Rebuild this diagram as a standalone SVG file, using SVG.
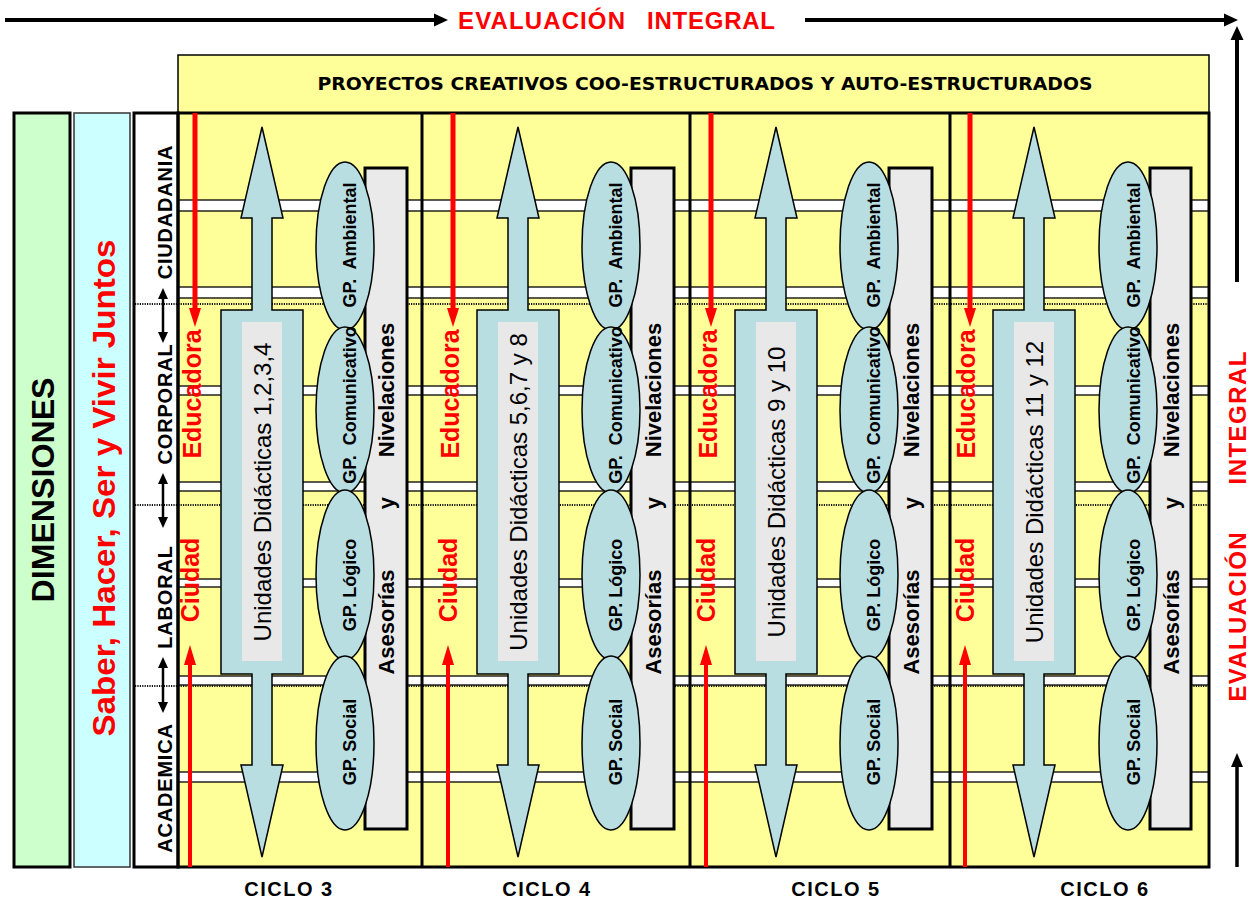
<svg xmlns="http://www.w3.org/2000/svg" xmlns:xlink="http://www.w3.org/1999/xlink" width="1249" height="902" viewBox="0 0 1249 902">
<style>
text{font-family:"Liberation Sans",Arial,sans-serif;}
.rt{text-anchor:middle;dominant-baseline:central;}
.band{fill:#FFFF99;stroke:#000;stroke-width:1.3;}
.dot{stroke:#111;stroke-width:2;stroke-dasharray:1.2 1.2;fill:none;}
.frame{fill:none;stroke:#000;stroke-width:3;}
.div{stroke:#000;stroke-width:3;}
.big{fill:#B8DEE2;stroke:#000;stroke-width:1.5;}
.inner{fill:#E8E8E8;}
.abox{fill:#EAEAEA;stroke:#000;stroke-width:3;}
.gp{fill:#B8DEE2;stroke:#000;stroke-width:1.5;}
.gpt{font-weight:bold;font-size:18px;fill:#000;}
.ud{font-size:24px;fill:#000;}
.ase{font-weight:bold;font-size:22px;fill:#000;}
.redt{font-weight:bold;font-size:25px;fill:#FF0000;}
.dim{font-weight:bold;font-size:20px;fill:#000;letter-spacing:0.8px;}
.ciclo{font-weight:bold;font-size:20px;fill:#000;text-anchor:middle;letter-spacing:1.5px;}
.eval{font-weight:bold;font-size:24px;fill:#FF0000;}
.redl{stroke:#FF0000;fill:none;}
.redh{fill:#FF0000;}
.blk{stroke:#000;fill:none;}
.blkh{fill:#000;}
</style>
<defs>
<polygon id="bigArrow" points="0,127 21,218 10,218 10,310 41,310 41,674 10,674 10,765 21,765 0,857 -21,765 -10,765 -10,674 -41,674 -41,310 -10,310 -10,218 -21,218"/>
</defs>
<rect width="1249" height="902" fill="#FFFFFF"/>

<g id="header">
<text class="eval" x="458" y="29" textLength="167" lengthAdjust="spacing">EVALUACIÓN</text>
<text class="eval" x="647" y="29" textLength="128" lengthAdjust="spacing">INTEGRAL</text>
<text class="eval rt" transform="translate(1237,617) rotate(-90)" textLength="169" lengthAdjust="spacing">EVALUACIÓN</text>
<text class="eval rt" transform="translate(1237,418) rotate(-90)" textLength="133" lengthAdjust="spacing">INTEGRAL</text>
</g>

<g id="proyectos">
<rect x="178" y="55" width="1031" height="58" fill="#FFFF99" stroke="#000" stroke-width="1.5"/>
<text x="705" y="90" text-anchor="middle" style="font-family:'DejaVu Sans',sans-serif" font-weight="bold" font-size="17" textLength="775" lengthAdjust="spacingAndGlyphs">PROYECTOS CREATIVOS COO-ESTRUCTURADOS Y AUTO-ESTRUCTURADOS</text>
</g>

<g id="dimensiones">
<rect x="14" y="113" width="56" height="754" fill="#CCFFCC" stroke="#000" stroke-width="3"/>
<text class="rt" transform="translate(43,490) rotate(-90)" font-weight="bold" font-size="32" fill="#000" textLength="225" lengthAdjust="spacingAndGlyphs">DIMENSIONES</text>
</g>

<g id="saber">
<rect x="74" y="113" width="56" height="754" fill="#CCFFFF" stroke="#333" stroke-width="1.5"/>
<text class="rt" transform="translate(104,488) rotate(-90)" font-weight="bold" font-size="31" fill="#FF0000" textLength="497" lengthAdjust="spacingAndGlyphs">Saber, Hacer, Ser y Vivir Juntos</text>
</g>

<g id="bands">
<rect class="band" x="178" y="113" width="1031" height="87"/>
<rect class="band" x="178" y="211" width="1031" height="76"/>
<rect class="band" x="178" y="298" width="1031" height="88"/>
<rect class="band" x="178" y="395" width="1031" height="87"/>
<rect class="band" x="178" y="491" width="1031" height="88"/>
<rect class="band" x="178" y="587" width="1031" height="89"/>
<rect class="band" x="178" y="685" width="1031" height="87"/>
<rect class="band" x="178" y="782" width="1031" height="85"/>
<line class="dot" x1="135" y1="304" x2="1209" y2="304"/>
<line class="dot" x1="135" y1="505" x2="1209" y2="505"/>
<line class="dot" x1="135" y1="686" x2="1209" y2="686"/>
</g>

<g id="dimension-labels">
<rect x="134" y="113" width="44" height="754" fill="none" stroke="#000" stroke-width="3"/>
<text class="dim rt" transform="translate(165,212) rotate(-90)">CIUDADANIA</text>
<text class="dim rt" transform="translate(165,404) rotate(-90)">CORPORAL</text>
<text class="dim rt" transform="translate(165,597) rotate(-90)">LABORAL</text>
<text class="dim rt" transform="translate(165,788) rotate(-90)">ACADEMICA</text>
</g>

<g id="frame">
<rect class="frame" x="178" y="113" width="1031" height="754"/>
<line class="div" x1="422" y1="113" x2="422" y2="867"/>
<line class="div" x1="690" y1="113" x2="690" y2="867"/>
<line class="div" x1="950" y1="113" x2="950" y2="867"/>
</g>

<g id="ciclo-3">
<use xlink:href="#bigArrow" href="#bigArrow" x="262" class="big"/>
<rect class="inner" x="242" y="322" width="40" height="339"/>
<rect class="abox" x="365" y="168" width="42" height="661"/>
<ellipse class="gp" cx="345" cy="246" rx="29" ry="84"/>
<ellipse class="gp" cx="345" cy="410" rx="29" ry="83"/>
<ellipse class="gp" cx="345" cy="575" rx="29" ry="85"/>
<ellipse class="gp" cx="345" cy="743" rx="29" ry="87"/>
<text class="ud rt" transform="translate(262,492) rotate(-90)">Unidades Didácticas 1,2,3,4</text>
<text class="gpt rt" transform="translate(350,245) rotate(-90)">GP.&#160; Ambiental</text>
<text class="gpt rt" transform="translate(350,405) rotate(-90)">GP.&#160; Comunicativo</text>
<text class="gpt rt" transform="translate(350,585) rotate(-90)">GP. Lógico</text>
<text class="gpt rt" transform="translate(350,742) rotate(-90)">GP. Social</text>
<text class="ase rt" transform="translate(386,390) rotate(-90)">Nivelaciones</text>
<text class="ase rt" transform="translate(386,503) rotate(-90)">y</text>
<text class="ase rt" transform="translate(386,622) rotate(-90)">Asesorías</text>
<text class="redt rt" transform="translate(192,394) rotate(-90)">Educadora</text>
<text class="redt rt" transform="translate(190,580) rotate(-90)">Ciudad</text>
<text class="ciclo" x="289" y="896">CICLO 3</text>
</g>

<g id="ciclo-4">
<use xlink:href="#bigArrow" href="#bigArrow" x="518" class="big"/>
<rect class="inner" x="498" y="322" width="40" height="339"/>
<rect class="abox" x="631" y="168" width="43" height="661"/>
<ellipse class="gp" cx="611" cy="246" rx="29" ry="84"/>
<ellipse class="gp" cx="611" cy="410" rx="29" ry="83"/>
<ellipse class="gp" cx="611" cy="575" rx="29" ry="85"/>
<ellipse class="gp" cx="611" cy="743" rx="29" ry="87"/>
<text class="ud rt" transform="translate(518,492) rotate(-90)">Unidades Didácticas 5,6,7 y 8</text>
<text class="gpt rt" transform="translate(616,245) rotate(-90)">GP.&#160; Ambiental</text>
<text class="gpt rt" transform="translate(616,405) rotate(-90)">GP.&#160; Comunicativo</text>
<text class="gpt rt" transform="translate(616,585) rotate(-90)">GP. Lógico</text>
<text class="gpt rt" transform="translate(616,742) rotate(-90)">GP. Social</text>
<text class="ase rt" transform="translate(653,390) rotate(-90)">Nivelaciones</text>
<text class="ase rt" transform="translate(653,503) rotate(-90)">y</text>
<text class="ase rt" transform="translate(653,622) rotate(-90)">Asesorías</text>
<text class="redt rt" transform="translate(450,394) rotate(-90)">Educadora</text>
<text class="redt rt" transform="translate(448,580) rotate(-90)">Ciudad</text>
<text class="ciclo" x="547" y="896">CICLO 4</text>
</g>

<g id="ciclo-5">
<use xlink:href="#bigArrow" href="#bigArrow" x="776" class="big"/>
<rect class="inner" x="756" y="322" width="40" height="339"/>
<rect class="abox" x="889" y="168" width="43" height="661"/>
<ellipse class="gp" cx="869" cy="246" rx="29" ry="84"/>
<ellipse class="gp" cx="869" cy="410" rx="29" ry="83"/>
<ellipse class="gp" cx="869" cy="575" rx="29" ry="85"/>
<ellipse class="gp" cx="869" cy="743" rx="29" ry="87"/>
<text class="ud rt" transform="translate(776,492) rotate(-90)">Unidades Didácticas 9 y 10</text>
<text class="gpt rt" transform="translate(874,245) rotate(-90)">GP.&#160; Ambiental</text>
<text class="gpt rt" transform="translate(874,405) rotate(-90)">GP.&#160; Comunicativo</text>
<text class="gpt rt" transform="translate(874,585) rotate(-90)">GP. Lógico</text>
<text class="gpt rt" transform="translate(874,742) rotate(-90)">GP. Social</text>
<text class="ase rt" transform="translate(911,390) rotate(-90)">Nivelaciones</text>
<text class="ase rt" transform="translate(911,503) rotate(-90)">y</text>
<text class="ase rt" transform="translate(911,622) rotate(-90)">Asesorías</text>
<text class="redt rt" transform="translate(708,394) rotate(-90)">Educadora</text>
<text class="redt rt" transform="translate(706,580) rotate(-90)">Ciudad</text>
<text class="ciclo" x="836" y="896">CICLO 5</text>
</g>

<g id="ciclo-6">
<use xlink:href="#bigArrow" href="#bigArrow" x="1034" class="big"/>
<rect class="inner" x="1014" y="322" width="40" height="339"/>
<rect class="abox" x="1150" y="168" width="41" height="661"/>
<ellipse class="gp" cx="1128" cy="246" rx="29" ry="84"/>
<ellipse class="gp" cx="1128" cy="410" rx="29" ry="83"/>
<ellipse class="gp" cx="1128" cy="575" rx="29" ry="85"/>
<ellipse class="gp" cx="1128" cy="743" rx="29" ry="87"/>
<text class="ud rt" transform="translate(1034,492) rotate(-90)">Unidades Didácticas 11 y 12</text>
<text class="gpt rt" transform="translate(1134,245) rotate(-90)">GP.&#160; Ambiental</text>
<text class="gpt rt" transform="translate(1134,405) rotate(-90)">GP.&#160; Comunicativo</text>
<text class="gpt rt" transform="translate(1134,585) rotate(-90)">GP. Lógico</text>
<text class="gpt rt" transform="translate(1134,742) rotate(-90)">GP. Social</text>
<text class="ase rt" transform="translate(1171,390) rotate(-90)">Nivelaciones</text>
<text class="ase rt" transform="translate(1171,503) rotate(-90)">y</text>
<text class="ase rt" transform="translate(1171,622) rotate(-90)">Asesorías</text>
<text class="redt rt" transform="translate(966,394) rotate(-90)">Educadora</text>
<text class="redt rt" transform="translate(965,580) rotate(-90)">Ciudad</text>
<text class="ciclo" x="1105" y="896">CICLO 6</text>
</g>

<g id="connectors">
<line class="blk" x1="5" y1="20" x2="436" y2="20" stroke-width="4"/>
<polygon class="blkh" points="434,13.5 448,20 434,26.5"/>
<line class="blk" x1="805" y1="20" x2="1226" y2="20" stroke-width="4"/>
<polygon class="blkh" points="1224,13.5 1238,20 1224,26.5"/>
<line class="blk" x1="1237" y1="282" x2="1237" y2="38" stroke-width="4"/>
<polygon class="blkh" points="1230.5,40 1243.5,40 1237,26"/>
<line class="blk" x1="1237" y1="867" x2="1237" y2="765" stroke-width="3.5"/>
<polygon class="blkh" points="1231,767 1243,767 1237,753"/>
<line class="blk" x1="163" y1="297" x2="163" y2="334" stroke-width="2.5"/>
<polygon class="blkh" points="158,299 168,299 163,288"/>
<polygon class="blkh" points="158,332 168,332 163,343"/>
<line class="blk" x1="163" y1="482" x2="163" y2="519" stroke-width="2.5"/>
<polygon class="blkh" points="158,484 168,484 163,473"/>
<polygon class="blkh" points="158,517 168,517 163,528"/>
<line class="blk" x1="163" y1="666" x2="163" y2="704" stroke-width="2.5"/>
<polygon class="blkh" points="158,668 168,668 163,657"/>
<polygon class="blkh" points="158,702 168,702 163,713"/>
<line class="redl" x1="195" y1="113" x2="195" y2="312" stroke-width="5"/>
<polygon class="redh" points="189,308 201,308 195,327"/>
<line class="redl" x1="190" y1="867" x2="190" y2="662" stroke-width="4"/>
<polygon class="redh" points="184,665 196,665 190,645"/>
<line class="redl" x1="453" y1="113" x2="453" y2="312" stroke-width="5"/>
<polygon class="redh" points="447,308 459,308 453,327"/>
<line class="redl" x1="448" y1="867" x2="448" y2="662" stroke-width="4"/>
<polygon class="redh" points="442,665 454,665 448,645"/>
<line class="redl" x1="711" y1="113" x2="711" y2="312" stroke-width="5"/>
<polygon class="redh" points="705,308 717,308 711,327"/>
<line class="redl" x1="706" y1="867" x2="706" y2="662" stroke-width="4"/>
<polygon class="redh" points="700,665 712,665 706,645"/>
<line class="redl" x1="970" y1="113" x2="970" y2="312" stroke-width="5"/>
<polygon class="redh" points="964,308 976,308 970,327"/>
<line class="redl" x1="965" y1="867" x2="965" y2="662" stroke-width="4"/>
<polygon class="redh" points="959,665 971,665 965,645"/>
</g>
</svg>
